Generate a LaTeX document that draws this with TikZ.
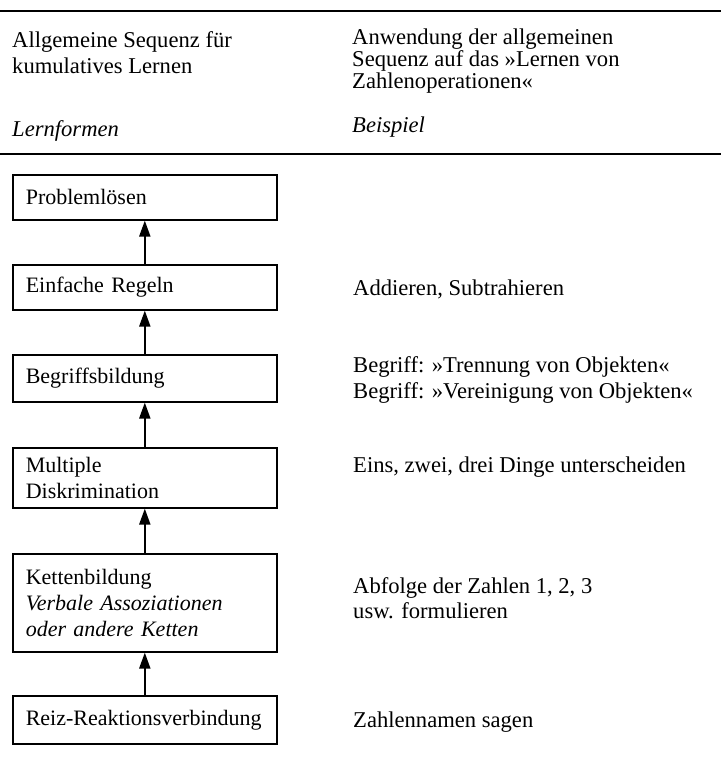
\documentclass[tikz,border=0pt]{standalone}
\usepackage{fontspec}
\setmainfont{Liberation Serif}
\usetikzlibrary{arrows.meta}
\begin{document}
\begin{tikzpicture}[x=1pt,y=-1pt,
  txt/.style={anchor=base west,inner sep=0pt,align=left,font=\fontsize{22.6}{26}\selectfont},
  hdr/.style={txt,font=\fontsize{22.6}{22}\selectfont},
  stepbox/.style={draw,line width=1.6pt,anchor=north west,inner xsep=13pt,inner ysep=0pt,
    text width=238pt,align=left,font=\fontsize{22}{26}\selectfont},
  rule/.style={line width=2.2pt},
  uparrow/.style={line width=2pt,-{Triangle[length=16pt,width=11pt]}}]
\useasboundingbox (0,0) rectangle (721,759);

% table rules
\coordinate (t1) at (0,11);   \coordinate (t2) at (721,11);
\coordinate (b1) at (0,154);  \coordinate (b2) at (721,154);
\draw[rule] (t1) -- (t2);
\draw[rule] (b1) -- (b2);

% column headings (multi-line nodes are placed by the baseline of their last line)
\node[txt] (h1) at (12,48) {Allgemeine Sequenz für};
\node[txt] (h2) at (12,74) {kumulatives Lernen};
\node[txt] (h3) at (12,137) {\itshape Lernformen};
\node[hdr] (h4) at (352,89) {Anwendung der allgemeinen\\Sequenz auf das »Lernen von\\Zahlenoperationen«};
\node[txt] (h5) at (352,133) {\itshape Beispiel};

% learning hierarchy
\node[stepbox,minimum height=45pt] (s6) at (12,174) {Problemlösen};
\node[stepbox,minimum height=45pt] (s5) at (12,264) {Einfache Regeln};
\node[stepbox,minimum height=47pt] (s4) at (12,354) {Begriffsbildung};
\node[stepbox,minimum height=60pt] (s3) at (12,447) {Multiple\\Diskrimination};
\node[stepbox,minimum height=98pt] (s2) at (12,553) {Kettenbildung\\\itshape Verbale Assoziationen\\\itshape oder andere Ketten};
\node[stepbox,minimum height=48pt] (s1) at (12,695) {Reiz-Reaktionsverbindung};

\draw[uparrow] (s1.north) -- (s2.south);
\draw[uparrow] (s2.north) -- (s3.south);
\draw[uparrow] (s3.north) -- (s4.south);
\draw[uparrow] (s4.north) -- (s5.south);
\draw[uparrow] (s5.north) -- (s6.south);

% examples
\node[txt] (e5) at (353,295) {Addieren, Subtrahieren};
\node[txt] (e4) at (353,398) {Begriff: »Trennung von Objekten«\\Begriff: »Vereinigung von Objekten«};
\node[txt] (e3) at (353,472) {Eins, zwei, drei Dinge unterscheiden};
\node[txt,font=\fontsize{22.6}{25}\selectfont] (e2) at (353,618) {Abfolge der Zahlen 1, 2, 3\\usw. formulieren};
\node[txt] (e1) at (353,727) {Zahlennamen sagen};
\end{tikzpicture}
\end{document}
